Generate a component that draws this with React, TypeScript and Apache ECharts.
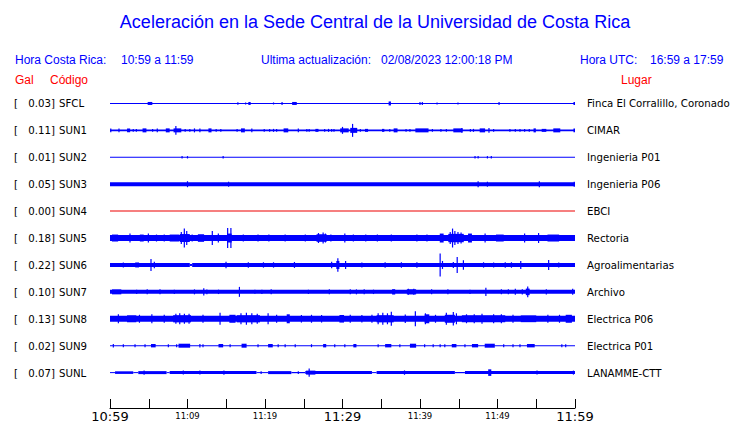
import React, { useEffect, useRef } from "react";
import * as echarts from "echarts";

// ---------- data ----------
const titleText = "Aceleración en la Sede Central de la Universidad de Costa Rica";
const codes = ["SFCL", "SUN1", "SUN2", "SUN3", "SUN4", "SUN5", "SUN6", "SUN7", "SUN8", "SUN9", "SUNL"];
const galValues = ["0.03", "0.11", "0.01", "0.05", "0.00", "0.18", "0.22", "0.10", "0.13", "0.02", "0.07"];
const places = [
  "Finca El Corralillo, Coronado", "CIMAR", "Ingenieria P01", "Ingenieria P06", "EBCI", "Rectoria",
  "Agroalimentarias", "Archivo", "Electrica P06", "Electrica P01", "LANAMME-CTT",
];
const traceColors = ["#0000ff", "#0000ff", "#0000ff", "#0000ff", "#ee0000", "#0000ff", "#0000ff", "#0000ff", "#0000ff", "#0000ff", "#0000ff"];
const tickLabels = ["10:59", "", "11:09", "", "11:19", "", "11:29", "", "11:39", "", "11:49", "", "11:59"];
const bigTicks = ["10:59", "11:29", "11:59"];

// background band per trace: [startMin, endMin, halfAmplitude]
const baseSFCL = [[0, 60, 0.5]];
const baseSUN1 = [[0, 60, 1]];
const baseSUN2 = [[0, 60, 0.5]];
const baseSUN3 = [[0, 60, 2]];
const baseSUN4 = [[0, 60, 0.5]];
const baseSUN5 = [[0, 60, 3]];
const baseSUN6 = [[0, 10.3, 2], [10.3, 10.6, 1], [10.6, 60, 2]];
const baseSUN7 = [[0, 60, 2]];
const baseSUN8 = [[0, 60, 3]];
const baseSUN9 = [[0, 60, 0.5]];
const baseSUNL = [
  [0, 0.65, 0.5], [0.65, 3.0, 1.3], [3.0, 3.65, 0.5], [3.65, 7.3, 1.5], [7.3, 7.7, 0.5], [7.7, 18.9, 1.5],
  [18.9, 20.4, 0.5], [20.4, 23.4, 1.5], [23.4, 25.2, 0.6], [25.2, 33.8, 1.5], [33.8, 34.4, 0.5],
  [34.4, 44.5, 1.5], [44.5, 45.8, 0.6], [45.8, 60, 1.5],
];

// bursts per trace: [minute, halfAmplitude, durationMin?]
const evSFCL = [[5.16, 1.5, 0.6], [16.5, 1.2], [17.5, 1.0], [18.0, 1.5, 0.3], [21.1, 1.0], [22.2, 1.5], [23.8, 1.5, 0.6], [36.1, 2, 0.3], [40.0, 1.5], [40.3, 1.5], [42.2, 1.0], [44.9, 1.0], [50.2, 1.5], [59.9, 1.5, 0.2]];
const evSUN1 = [
  [0.1, 2], [1.16, 2], [2.4, 2, 0.4], [3.0, 1.5], [3.4, 1.5], [4.45, 2, 0.5], [5.5, 1.5], [6.1, 2], [7.45, 2, 0.5], [8.7, 2, 1.0],
  [8.5, 4.5], [9.7, 1.5], [10.3, 1.5], [10.9, 2], [11.6, 2], [12.9, 2, 0.4], [13.7, 1.5], [14.3, 1.5], [16.4, 1.5], [17.15, 2, 0.5],
  [18.3, 2], [19.9, 1.5], [20.6, 1.5], [21.1, 1.5], [21.5, 1.5], [22.7, 2, 0.6], [24.3, 2], [25.4, 1.5], [25.7, 1.5], [26.7, 1.5, 0.4],
  [27.7, 1.5], [28.2, 1.5], [28.6, 1.5], [28.9, 1.5], [30.25, 2, 1.1], [30.0, 3.5], [31.45, 2.5, 0.9], [31.3, 6.5], [32.3, 1.5],
  [33.1, 1.5, 0.4], [35.25, 1.5, 0.3], [36.1, 1.5], [36.85, 2, 0.5], [38.2, 1.5], [38.7, 1.5], [40.25, 2, 1.7], [41.6, 1.5],
  [42.7, 1.5], [43.4, 1.5], [44.9, 2, 1.2], [45.4, 2.5], [46.5, 1.5], [46.9, 1.5], [48.05, 2, 0.7], [48.9, 2.5], [49.5, 1.5],
  [51.6, 1.5], [52.3, 1.5], [52.9, 1.5], [53.5, 1.5], [54.1, 1.5], [54.8, 2, 0.3], [56.0, 1.5, 0.6], [57.65, 2, 0.9], [59.9, 2, 0.2],
];
const evSUN2 = [[9.3, 1.2], [10.0, 1.2], [14.6, 1.2], [47.1, 1.2], [47.5, 1.2], [48.7, 1.2], [49.2, 1.2]];
const evSUN3 = [[10.0, 3], [15.3, 2.5], [47.5, 3], [48.7, 2.5], [55.4, 3], [59.9, 2.5]];
const evSUN4: number[][] = [];
const evSUN5 = [
  [0.65, 3.5, 0.8], [2.58, 4.5], [4.1, 3.5, 0.5], [4.95, 4.5], [6.0, 3.5], [7.0, 3.5], [8.3, 3.5, 1.2], [9.65, 4, 1.3], [9.2, 6],
  [9.59, 9.5], [9.9, 7], [10.6, 3.5], [11.74, 3.8, 0.8], [13.2, 7], [13.98, 4.5], [15.4, 4.5, 0.6], [15.18, 10], [15.6, 10],
  [17.2, 3.5], [19.1, 3.5], [20.5, 3.5], [22.6, 3.5], [25.2, 3.5], [27.3, 3.8, 1.3], [26.9, 5], [27.5, 5.5], [27.8, 4.5],
  [28.5, 3.5], [30.3, 4.5], [31.4, 3.5], [33.0, 3.5], [34.5, 3.5], [36.3, 3.5], [39.6, 3.5], [40.9, 3.5], [42.8, 4.5, 0.5],
  [44.65, 4.2, 2.0], [43.9, 6], [44.2, 9.5], [44.5, 7], [44.9, 6], [45.3, 5.5], [46.45, 4.5, 0.5], [48.4, 4.5], [50.3, 3.5, 1.0],
  [53.5, 4.5], [55.3, 5], [57.2, 3.5, 1.5],
];
const evSUN6 = [
  [1.72, 2.5], [3.5, 2.5, 0.5], [5.29, 6], [5.72, 3.3], [14.97, 3.3], [17.85, 2.7], [19.8, 2.7], [21.1, 2.7], [23.8, 3],
  [28.6, 3.3], [29.4, 4, 0.4], [29.4, 6.7], [30.4, 4], [32.5, 2.5], [35.5, 2.7], [37.6, 2.7], [39.6, 2.7], [42.6, 11.5],
  [42.9, 4], [44.3, 3], [44.8, 8], [45.6, 4.7], [48.2, 2.7], [49.5, 2.5], [51.0, 2.7], [51.8, 2.7], [53.0, 4], [56.6, 5], [57.9, 2.5],
];
const evSUN7 = [
  [0.86, 2.5, 1.2], [3.44, 2.2], [4.8, 2.5], [6.45, 2.5], [8.3, 2.2], [10.9, 2.5], [12.1, 3.7], [12.5, 2.3], [14.0, 2.2], [16.7, 5],
  [18.7, 2], [19.6, 2.2], [20.8, 2.5], [25.6, 2.2], [28.3, 2.5], [31.0, 2.5], [31.8, 2.5], [32.8, 2.5], [34.0, 2.2], [36.6, 2.7, 0.4],
  [38.9, 2.6, 1.2], [38.5, 3], [39.2, 3], [41.5, 2.5], [43.6, 2.5], [46.45, 2.2], [48.5, 4.2], [50.5, 2.5], [51.4, 2.5], [52.3, 3],
  [53.2, 2.7], [53.9, 3.3, 0.5], [53.9, 5.5], [56.3, 2.7], [59.7, 3],
];
const evSUN8 = [
  [1.08, 4.5], [2.8, 3.5, 1.2], [3.8, 4], [5.4, 4.5], [7.0, 4], [9.3, 3.6, 2.3], [8.5, 5], [9.0, 5.5], [9.6, 5], [10.2, 5],
  [12.0, 4], [14.2, 6], [15.8, 4, 0.8], [17.85, 3.6, 3.0], [16.9, 5.5], [17.6, 6], [18.3, 5.5], [19.0, 5], [20.4, 5.5],
  [21.5, 4], [23.0, 4.5, 0.4], [24.7, 3.8], [26.0, 4], [27.3, 3.8], [29.9, 3.8, 0.6], [31.0, 4], [32.5, 3.8], [33.8, 4],
  [35.5, 3.6, 2.2], [34.6, 5.5], [35.2, 6], [35.8, 5.5], [36.3, 7], [38.1, 4.2], [39.4, 7.5], [40.9, 4.5, 0.6], [40.7, 5.5],
  [42.0, 4], [43.85, 4, 1.3], [43.4, 6], [44.3, 6.7], [44.7, 5.5], [48.2, 3.5, 5.6], [46.0, 4.5], [47.0, 4.5], [48.0, 5],
  [49.5, 4.5], [50.5, 4.5], [52.0, 4], [54.0, 3.4, 2.0], [56.5, 4], [58.0, 4], [59.2, 4, 0.8],
];
const evSUN9 = [
  [0.43, 1.7], [1.72, 1.5], [3.23, 1.5], [4.52, 1.5], [5.59, 1.7, 0.6], [7.53, 1.5], [8.6, 1.5], [9.59, 2, 1.5], [11.6, 1.7],
  [12.0, 1.5], [14.3, 1.7, 0.6], [15.5, 1.5], [17.3, 2, 0.65], [19.1, 1.5], [20.7, 1.7, 0.6], [21.7, 1.5], [22.6, 1.5],
  [23.9, 1.5], [26.0, 1.5], [27.7, 1.7, 0.4], [29.0, 1.5], [30.3, 1.5], [31.6, 1.7, 0.4], [34.6, 1.5], [35.9, 1.7, 0.8],
  [37.4, 1.5], [39.1, 2, 0.8], [40.6, 1.5], [41.7, 1.5], [42.6, 1.5], [43.2, 1.5], [44.4, 1.7, 0.6], [45.8, 1.5],
  [47.1, 1.7, 0.8], [49.0, 2, 1.3], [50.8, 1.5], [52.0, 1.5], [52.9, 1.5], [54.3, 1.7, 1.0], [58.3, 1.5], [58.8, 1.5],
];
const evSUNL = [[4.4, 2.2], [9.46, 2], [11.6, 2], [14.7, 2.2], [19.5, 1.3], [24.3, 1.3], [25.9, 2, 1.2], [25.7, 4.2], [38.0, 2.2], [49.0, 3.3, 0.4], [55.1, 2], [59.8, 2]];

const bases = [baseSFCL, baseSUN1, baseSUN2, baseSUN3, baseSUN4, baseSUN5, baseSUN6, baseSUN7, baseSUN8, baseSUN9, baseSUNL];
const events = [evSFCL, evSUN1, evSUN2, evSUN3, evSUN4, evSUN5, evSUN6, evSUN7, evSUN8, evSUN9, evSUNL];

// ---------- layout ----------
const ROW_H = 27;
const GRID_TOP = 90;
const AXIS_Y = 409;
const Y_MAX = AXIS_Y - GRID_TOP; // 1 unit = 1 px
const rowOffset = (i: number) => Y_MAX - ROW_H / 2 - ROW_H * i;
const rowPixel = (i: number) => GRID_TOP + ROW_H / 2 + ROW_H * i;
const DEFAULT_DUR = 0.15;

const txt = (text: string, x: number, y: number, fill: string, size: number, family: string, align = "left") => ({
  type: "text",
  x,
  y,
  silent: true,
  style: {
    text,
    fill,
    fontSize: size,
    fontFamily: family,
    align,
    textAlign: align,
    verticalAlign: "middle",
    textVerticalAlign: "middle",
  },
});

export default function App() {
  const ref = useRef<HTMLDivElement>(null);
  useEffect(() => {
    if (!ref.current) return;
    const chart = echarts.init(ref.current, undefined, { renderer: "svg" });

    const series = codes.map((code, i) => {
      const off = rowOffset(i);
      const segs: number[][] = [];
      bases[i].forEach((b) => segs.push([b[0], b[1], b[2], off]));
      events[i].forEach((e) => {
        const d = e[2] ?? DEFAULT_DUR;
        segs.push([Math.max(0, e[0] - d / 2), Math.min(60, e[0] + d / 2), e[1], off]);
      });
      const color = traceColors[i];
      return {
        type: "custom",
        name: code,
        silent: true,
        clip: false,
        data: segs,
        encode: { x: [0, 1], y: [3] },
        renderItem: (_p: any, api: any) => {
          const s = api.value(0), e = api.value(1), a = api.value(2), o = api.value(3);
          const p1 = api.coord([s, o + a]);
          const p2 = api.coord([e, o - a]);
          const w = Math.max(p2[0] - p1[0], 1.2);
          const h = Math.max(p2[1] - p1[1], 1);
          return {
            type: "rect",
            shape: { x: (p1[0] + p2[0]) / 2 - w / 2, y: p1[1], width: w, height: h },
            style: { fill: color },
          };
        },
      };
    });

    const graphics: any[] = [
      txt(titleText, 375, 22, "#0000ff", 18, "Liberation Sans", "center"),
      txt("Hora Costa Rica:", 15, 60, "#0000ff", 12, "Liberation Sans"),
      txt("10:59 a 11:59", 121, 60, "#0000ff", 12, "Liberation Sans"),
      txt("Ultima actualización:", 261, 60, "#0000ff", 12, "Liberation Sans"),
      txt("02/08/2023 12:00:18 PM", 381, 60, "#0000ff", 12, "Liberation Sans"),
      txt("Hora UTC:", 580, 60, "#0000ff", 12, "Liberation Sans"),
      txt("16:59 a 17:59", 650, 60, "#0000ff", 12, "Liberation Sans"),
      txt("Gal", 15, 80, "#ff0000", 12, "Liberation Sans"),
      txt("Código", 50, 80, "#ff0000", 12, "Liberation Sans"),
      txt("Lugar", 621, 80, "#ff0000", 12, "Liberation Sans"),
    ];
    codes.forEach((code, i) => {
      const y = rowPixel(i);
      graphics.push(txt("[", 14, y, "#000", 10.2, "DejaVu Sans"));
      graphics.push(txt(galValues[i] + "]", 55, y, "#000", 10.2, "DejaVu Sans", "right"));
      graphics.push(txt(code, 59, y, "#000", 10.2, "DejaVu Sans"));
      graphics.push(txt(places[i], 587, y, "#000", 10.2, "DejaVu Sans"));
    });

    chart.setOption({
      animation: false,
      grid: { left: 110, right: 165, top: GRID_TOP, height: Y_MAX, containLabel: false },
      xAxis: {
        type: "value",
        min: 0,
        max: 60,
        interval: 5,
        axisLine: { show: true, lineStyle: { color: "#000", width: 1 } },
        axisTick: { show: true, inside: true, length: 9, lineStyle: { color: "#000", width: 1 } },
        splitLine: { show: false },
        axisLabel: {
          margin: 2,
          showMinLabel: true,
          showMaxLabel: true,
          formatter: (v: number) => {
            const lab = tickLabels[Math.round(v / 5)] || "";
            if (!lab) return "";
            return bigTicks.includes(lab) ? `{big|${lab}}` : `{small|${lab}}`;
          },
          rich: {
            big: { fontSize: 13, fontFamily: "DejaVu Sans", color: "#000", lineHeight: 13 },
            small: { fontSize: 8.5, fontFamily: "DejaVu Sans", color: "#000", lineHeight: 12 },
          },
        },
      },
      yAxis: { type: "value", min: 0, max: Y_MAX, show: false },
      graphic: { elements: graphics },
      series,
    });
    return () => chart.dispose();
  }, []);
  return <div ref={ref} style={{ position: "absolute", left: 0, top: 0, width: 740, height: 423, background: "#fff" }} />;
}
